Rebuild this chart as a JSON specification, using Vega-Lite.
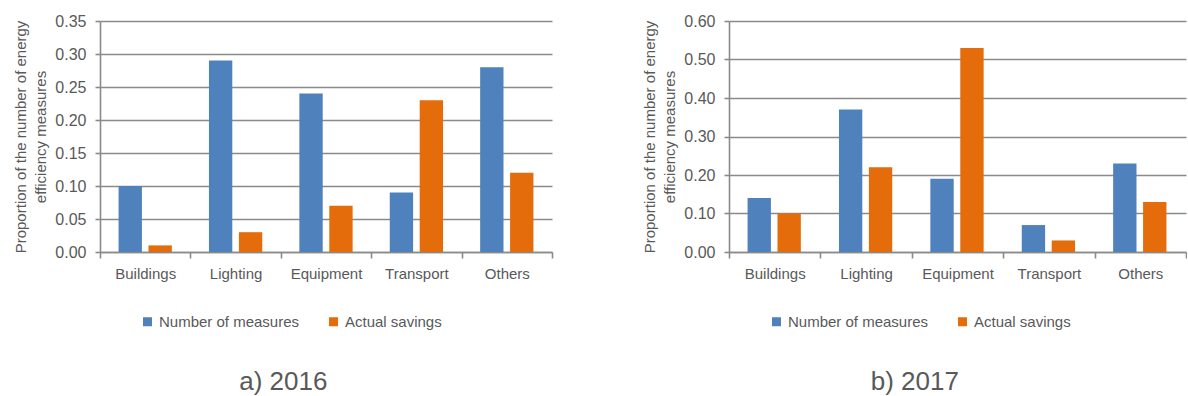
{
  "$schema": "https://vega.github.io/schema/vega-lite/v6.json",
  "background": "white",
  "padding": {"left": 13, "top": 13, "right": 0, "bottom": 0},
  "spacing": 89,
  "datasets": {
    "rows": [
      {"year": "2016", "category": "Buildings", "series": "Number of measures", "value": 0.10},
      {"year": "2016", "category": "Buildings", "series": "Actual savings", "value": 0.01},
      {"year": "2016", "category": "Lighting", "series": "Number of measures", "value": 0.29},
      {"year": "2016", "category": "Lighting", "series": "Actual savings", "value": 0.03},
      {"year": "2016", "category": "Equipment", "series": "Number of measures", "value": 0.24},
      {"year": "2016", "category": "Equipment", "series": "Actual savings", "value": 0.07},
      {"year": "2016", "category": "Transport", "series": "Number of measures", "value": 0.09},
      {"year": "2016", "category": "Transport", "series": "Actual savings", "value": 0.23},
      {"year": "2016", "category": "Others", "series": "Number of measures", "value": 0.28},
      {"year": "2016", "category": "Others", "series": "Actual savings", "value": 0.12},
      {"year": "2017", "category": "Buildings", "series": "Number of measures", "value": 0.14},
      {"year": "2017", "category": "Buildings", "series": "Actual savings", "value": 0.10},
      {"year": "2017", "category": "Lighting", "series": "Number of measures", "value": 0.37},
      {"year": "2017", "category": "Lighting", "series": "Actual savings", "value": 0.22},
      {"year": "2017", "category": "Equipment", "series": "Number of measures", "value": 0.19},
      {"year": "2017", "category": "Equipment", "series": "Actual savings", "value": 0.53},
      {"year": "2017", "category": "Transport", "series": "Number of measures", "value": 0.07},
      {"year": "2017", "category": "Transport", "series": "Actual savings", "value": 0.03},
      {"year": "2017", "category": "Others", "series": "Number of measures", "value": 0.23},
      {"year": "2017", "category": "Others", "series": "Actual savings", "value": 0.13}
    ]
  },
  "config": {
    "font": "Liberation Sans",
    "view": {"stroke": null},
    "axis": {
      "labelFont": "Liberation Sans",
      "titleFont": "Liberation Sans",
      "labelColor": "#595959",
      "titleColor": "#595959",
      "labelFontSize": 16,
      "titleFontSize": 15,
      "titleFontWeight": "normal",
      "domainColor": "#8a8a8a",
      "tickColor": "#8a8a8a",
      "gridColor": "#8a8a8a",
      "domainWidth": 1.6,
      "tickWidth": 1.6,
      "gridWidth": 1.6
    },
    "legend": {
      "labelFont": "Liberation Sans",
      "labelColor": "#595959",
      "labelFontSize": 15
    },
    "title": {
      "font": "Liberation Sans",
      "color": "#595959",
      "fontSize": 26,
      "fontWeight": "normal"
    }
  },
  "resolve": {"scale": {"color": "independent", "y": "independent"}, "legend": {"color": "independent"}},
  "hconcat": [
    {
      "width": 452,
      "height": 231,
      "title": {"text": "a) 2016", "orient": "bottom", "anchor": "middle", "frame": "bounds", "offset": 39},
      "data": {"name": "rows"},
      "transform": [{"filter": "datum.year === '2016'"}],
      "mark": {"type": "bar"},
      "encoding": {
        "x": {
          "field": "category", "type": "nominal",
          "sort": ["Buildings", "Lighting", "Equipment", "Transport", "Others"],
          "scale": {"paddingInner": 0, "paddingOuter": 0},
          "axis": {"title": null, "labelAngle": 0, "tickBand": "extent", "tickSize": 6, "labelPadding": 8, "grid": false, "labelFontSize": 15}
        },
        "xOffset": {
          "field": "series", "type": "nominal",
          "sort": ["Number of measures", "Actual savings"],
          "scale": {"paddingInner": 0.22, "paddingOuter": 0.62}
        },
        "y": {
          "field": "value", "type": "quantitative",
          "scale": {"domain": [0, 0.35], "nice": false},
          "axis": {
            "title": ["Proportion of the number of energy", "efficiency measures"],
            "values": [0, 0.05, 0.1, 0.15, 0.2, 0.25, 0.3, 0.35],
            "format": ".2f",
            "grid": true,
            "tickSize": 5,
            "labelPadding": 9,
            "titlePadding": 6,
            "titleLineHeight": 20
          }
        },
        "color": {
          "field": "series", "type": "nominal",
          "sort": ["Number of measures", "Actual savings"],
          "scale": {"domain": ["Number of measures", "Actual savings"], "range": ["#4F81BD", "#E46C0A"]},
          "legend": {
            "title": null, "orient": "none", "direction": "horizontal",
            "legendX": 40, "legendY": 293,
            "symbolType": "square", "symbolSize": 81, "symbolStrokeWidth": 0,
            "labelOffset": 4, "columnPadding": 26
          }
        }
      }
    },
    {
      "width": 457,
      "height": 231,
      "title": {"text": "b) 2017", "orient": "bottom", "anchor": "middle", "frame": "bounds", "offset": 39},
      "data": {"name": "rows"},
      "transform": [{"filter": "datum.year === '2017'"}],
      "mark": {"type": "bar"},
      "encoding": {
        "x": {
          "field": "category", "type": "nominal",
          "sort": ["Buildings", "Lighting", "Equipment", "Transport", "Others"],
          "scale": {"paddingInner": 0, "paddingOuter": 0},
          "axis": {"title": null, "labelAngle": 0, "tickBand": "extent", "tickSize": 6, "labelPadding": 8, "grid": false, "labelFontSize": 15}
        },
        "xOffset": {
          "field": "series", "type": "nominal",
          "sort": ["Number of measures", "Actual savings"],
          "scale": {"paddingInner": 0.22, "paddingOuter": 0.62}
        },
        "y": {
          "field": "value", "type": "quantitative",
          "scale": {"domain": [0, 0.6], "nice": false},
          "axis": {
            "title": ["Proportion of the number of energy", "efficiency measures"],
            "values": [0, 0.1, 0.2, 0.3, 0.4, 0.5, 0.6],
            "format": ".2f",
            "grid": true,
            "tickSize": 5,
            "labelPadding": 9,
            "titlePadding": 6,
            "titleLineHeight": 20
          }
        },
        "color": {
          "field": "series", "type": "nominal",
          "sort": ["Number of measures", "Actual savings"],
          "scale": {"domain": ["Number of measures", "Actual savings"], "range": ["#4F81BD", "#E46C0A"]},
          "legend": {
            "title": null, "orient": "none", "direction": "horizontal",
            "legendX": 40, "legendY": 293,
            "symbolType": "square", "symbolSize": 81, "symbolStrokeWidth": 0,
            "labelOffset": 4, "columnPadding": 26
          }
        }
      }
    }
  ]
}
